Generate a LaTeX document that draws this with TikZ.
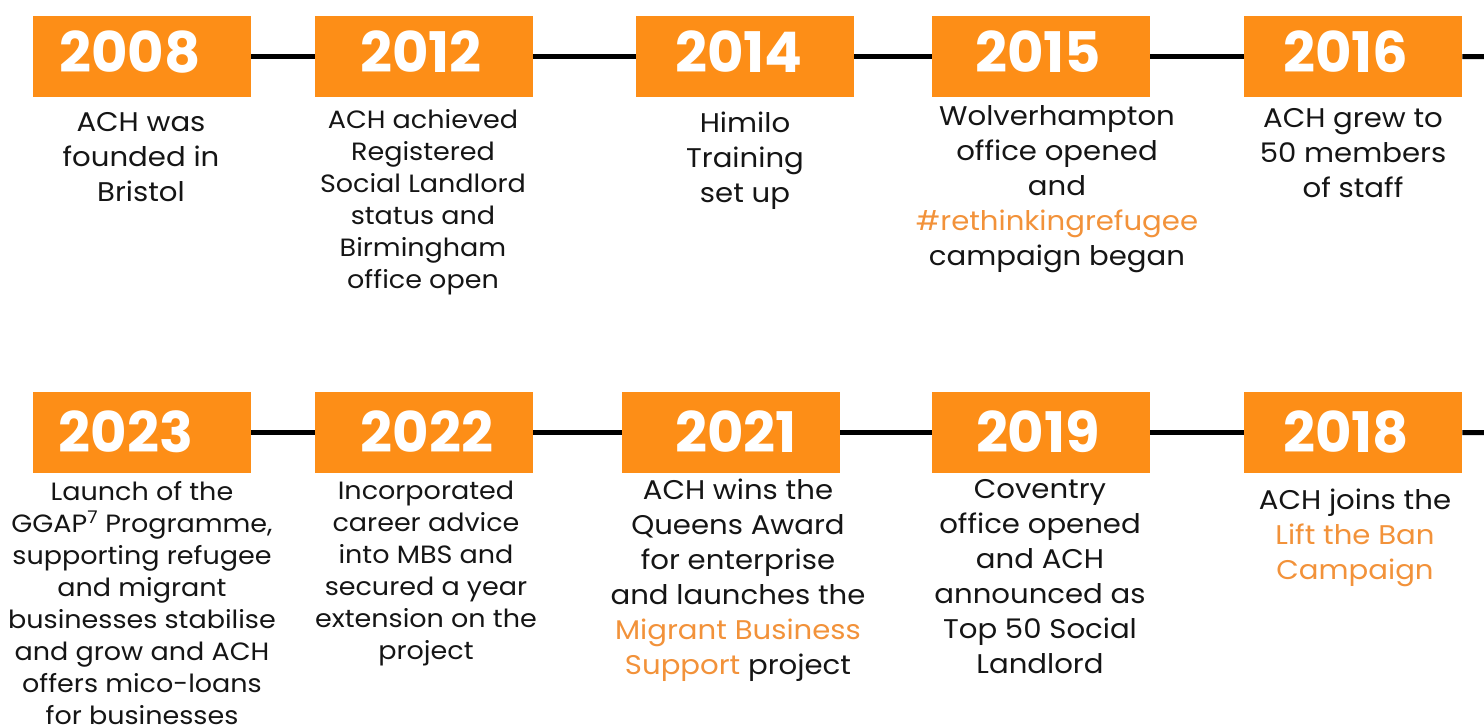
\documentclass[tikz,border=0pt]{standalone}
\usepackage{fontspec}
\setmainfont{Poppins}
\newfontfamily\bodyfont{Poppins}[FakeStretch=1.08]
\definecolor{achorange}{HTML}{FD8E17}
\definecolor{linkorange}{HTML}{F2923A}
\definecolor{ink}{HTML}{151515}
\begin{document}
\begin{tikzpicture}[x=1pt,y=-1pt,
  yearbox/.style={fill=achorange, minimum width=218pt, minimum height=81pt, inner sep=0pt, anchor=north west},
  yeartext/.style={text=white, font=\fontsize{56}{56}\selectfont\bfseries, anchor=base, inner sep=0pt},
  bodyL/.style={text=ink, align=center, font=\bodyfont\fontsize{27}{35}\selectfont, anchor=north, inner sep=0pt},
  bodyS/.style={text=ink, align=center, font=\bodyfont\fontsize{25}{32}\selectfont, anchor=north, inner sep=0pt},
  link/.style={line width=5pt, draw=black}]
\useasboundingbox (0,0) rectangle (1484,724);

% ---- top row: year boxes ----
\node[yearbox] (b2008) at (33,16) {};
\node[yearbox] (b2012) at (315,16) {};
\node[yearbox] (b2014) at (636,16) {};
\node[yearbox] (b2015) at (932,16) {};
\node[yearbox] (b2016) at (1244,16) {};
\coordinate (r1) at (1484,56.5);

% ---- bottom row: year boxes ----
\node[yearbox] (b2023) at (33,392) {};
\node[yearbox] (b2022) at (315,392) {};
\node[yearbox] (b2021) at (622,392) {};
\node[yearbox] (b2019) at (932,392) {};
\node[yearbox] (b2018) at (1244,392) {};
\coordinate (r2) at (1484,432.5);

% ---- timeline links ----
\draw[link] (b2008.east) -- (b2012.west);
\draw[link] (b2012.east) -- (b2014.west);
\draw[link] (b2014.east) -- (b2015.west);
\draw[link] (b2015.east) -- (b2016.west);
\draw[link] (b2016.east) -- (r1);
\draw[link] (b2023.east) -- (b2022.west);
\draw[link] (b2022.east) -- (b2021.west);
\draw[link] (b2021.east) -- (b2019.west);
\draw[link] (b2019.east) -- (b2018.west);
\draw[link] (b2018.east) -- (r2);

% ---- year labels ----
\node[yeartext] (y2008) at (130,72) {2008};
\node[yeartext] (y2012) at (421,72) {2012};
\node[yeartext] (y2014) at (739,72) {2014};
\node[yeartext] (y2015) at (1038,72) {2015};
\node[yeartext] (y2016) at (1346,72) {2016};
\node[yeartext] (y2023) at (126,452) {2023};
\node[yeartext] (y2022) at (427,452) {2022};
\node[yeartext] (y2021) at (736,452) {2021};
\node[yeartext] (y2019) at (1038,452) {2019};
\node[yeartext] (y2018) at (1346,452) {2018};

% ---- descriptions ----
\node[bodyL] (t2008) at (141,112) {ACH was\\founded in\\Bristol};
\node[bodyS] (t2012) at (423,109) {ACH achieved\\Registered\\Social Landlord\\status and\\Birmingham\\office open};
\node[bodyL] (t2014) at (745,112) {Himilo\\Training\\set up};
\node[bodyL] (t2015) at (1057,105) {Wolverhampton\\office opened\\and\\\textcolor{linkorange}{\#rethinkingrefugee}\\campaign began};
\node[bodyL] (t2016) at (1353,108) {ACH grew to\\50 members\\of staff};

\node[bodyS] (t2023) at (142,481) {Launch of the\\GGAP\textsuperscript{7} Programme,\\supporting refugee\\and migrant\\businesses stabilise\\and grow and ACH\\offers mico-loans\\for businesses};
\node[bodyS] (t2022) at (426,481) {Incorporated\\career advice\\into MBS and\\secured a year\\extension on the\\project};
\node[bodyL] (t2021) at (738,479) {ACH wins the\\Queens Award\\for enterprise\\and launches the\\\textcolor{linkorange}{Migrant Business}\\\textcolor{linkorange}{Support} project};
\node[bodyL] (t2019) at (1040,479) {Coventry\\office opened\\and ACH\\announced as\\Top 50 Social\\Landlord};
\node[bodyL] (t2018) at (1355,489) {ACH joins the\\\textcolor{linkorange}{Lift the Ban}\\\textcolor{linkorange}{Campaign}};
\end{tikzpicture}
\end{document}
